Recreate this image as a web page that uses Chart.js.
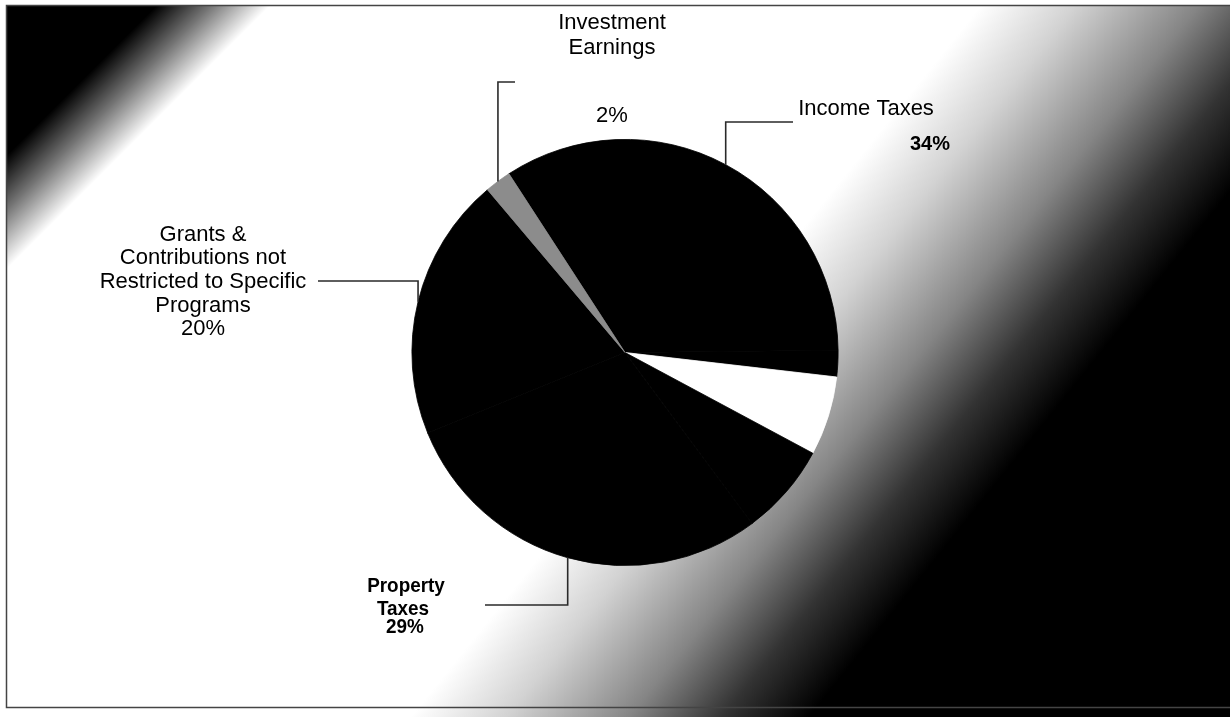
<!DOCTYPE html>
<html>
<head>
<meta charset="utf-8">
<script src="https://cdn.jsdelivr.net/npm/chart.js@4.4.1/dist/chart.umd.min.js"></script>
<style>
  html, body { margin: 0; padding: 0; background: #fff; }
  #wrap { width: 1230px; height: 717px; position: relative; }
</style>
</head>
<body>
<div id="wrap"><canvas id="revChart" width="1230" height="717"></canvas></div>
<script>
"use strict";
// slice order clockwise from the Income Taxes slice
var categories = ['Income Taxes', 'Other (unlabelled)', 'Other (unlabelled, white)', 'Other (unlabelled) ', 'Property Taxes', 'Grants & Contributions not Restricted to Specific Programs', 'Investment Earnings'];
var shares = [34, 2, 6, 7, 29, 20, 2];
var sliceColors = ['#000', '#000', '#fff', '#000', '#000', '#000', '#8c8c8c'];

// label text per slice index (hidden labels on the dark side are left out)
var labelText = {
    0: [['Income Taxes', 'n'], ['34%', 'b']],
    4: [['Property', 'c'], ['Taxes', 'c'], ['29%', 'c']],
    5: [['Grants &', 'n'], ['Contributions not', 'n'], ['Restricted to Specific', 'n'], ['Programs', 'n'], ['20%', 'n']],
    6: [['Investment', 'n'], ['Earnings', 'n'], ['2%', 'n']]
};

// layout of the labels: text line centres, and leader elbow (y) and end (x)
var labelLayout = {
    0: {xs: [866, 930], ys: [109, 144], elbowY: 122, endX: 793},
    4: {xs: [406, 403, 405], ys: [586, 609, 627], elbowY: 605, endX: 485},
    5: {xs: [203, 203, 203, 203, 203], ys: [235, 258, 282, 306, 329], elbowY: 281, endX: 318},
    6: {xs: [612, 612, 612], ys: [23, 48, 116], elbowY: 82, endX: 515}
};

var fonts = {
    n: '22px "Liberation Sans", Arial, sans-serif',
    b: 'bold 20px "Liberation Sans", Arial, sans-serif',
    c: 'bold 21px "Liberation Sans", Arial, sans-serif'
};

var backdrop = {
    id: 'backdrop',
    beforeDraw: (chart) => {
        var ctx = chart.ctx;
        ctx.save();
        // main band: white on the left, going dark towards bottom right
        var g = ctx.createLinearGradient(0, 0, 1097, 879);
        g.addColorStop(0, '#fff');
        g.addColorStop(0.547, '#fff');
        g.addColorStop(0.60, '#d2d2d2');
        g.addColorStop(0.668, '#858585');
        g.addColorStop(0.72, '#333');
        g.addColorStop(0.768, '#000');
        g.addColorStop(1, '#000');
        ctx.fillStyle = g;
        ctx.fillRect(6, 5, 1224, 712);
        // dark top left corner
        var g2 = ctx.createLinearGradient(0, 0, 300, 300);
        g2.addColorStop(0, 'rgba(0,0,0,1)');
        g2.addColorStop(0.27, 'rgba(0,0,0,1)');
        g2.addColorStop(0.36, 'rgba(0,0,0,0.55)');
        g2.addColorStop(0.46, 'rgba(0,0,0,0)');
        g2.addColorStop(1, 'rgba(0,0,0,0)');
        ctx.fillStyle = g2;
        ctx.fillRect(6, 5, 400, 400);
        // frame
        ctx.strokeStyle = '#444';
        ctx.lineWidth = 1.5;
        ctx.beginPath();
        ctx.moveTo(1230, 5.5);
        ctx.lineTo(6.5, 5.5);
        ctx.lineTo(6.5, 707.5);
        ctx.lineTo(1230, 707.5);
        ctx.stroke();
        ctx.restore();
    }
};

var sliceLabels = {
    id: 'sliceLabels',
    afterDatasetsDraw: (chart) => {
        var ctx = chart.ctx;
        var arcs = chart.getDatasetMeta(0).data;
        ctx.save();
        Object.keys(labelText).forEach((key) => {
            var i = Number(key);
            var arc = arcs[i].getProps(['x', 'y', 'startAngle', 'endAngle', 'outerRadius'], true);
            var mid = (arc.startAngle + arc.endAngle) / 2;
            var px = arc.x + Math.cos(mid) * arc.outerRadius;
            var py = arc.y + Math.sin(mid) * arc.outerRadius;
            var lay = labelLayout[i];

            ctx.strokeStyle = '#2a2a2a';
            ctx.lineWidth = 1.6;
            ctx.beginPath();
            ctx.moveTo(px, py);
            ctx.lineTo(px, lay.elbowY);
            ctx.lineTo(lay.endX, lay.elbowY);
            ctx.stroke();

            ctx.fillStyle = '#000';
            ctx.textAlign = 'center';
            ctx.textBaseline = 'middle';
            labelText[i].forEach((line, n) => {
                ctx.font = fonts[line[1]];
                if (line[1] === 'c') {
                    // the scanned property label is squeezed sideways
                    ctx.save();
                    ctx.translate(lay.xs[n], lay.ys[n]);
                    ctx.scale(0.9, 1);
                    ctx.fillText(line[0], 0, 0);
                    ctx.restore();
                } else {
                    ctx.fillText(line[0], lay.xs[n], lay.ys[n]);
                }
            });
        });
        ctx.restore();
    }
};

var revChart = new Chart(document.getElementById('revChart'), {
    type: 'pie',
    data: {
        labels: categories,
        datasets: [{
            data: shares,
            backgroundColor: sliceColors,
            borderColor: sliceColors,
            borderWidth: 0.8
        }]
    },
    options: {
        responsive: false,
        animation: false,
        rotation: 327,
        layout: {
            padding: {left: 200, right: 180, top: 139, bottom: 151}
        },
        plugins: {
            legend: {display: false},
            tooltip: {enabled: false}
        }
    },
    plugins: [backdrop, sliceLabels]
});
</script>
</body>
</html>
